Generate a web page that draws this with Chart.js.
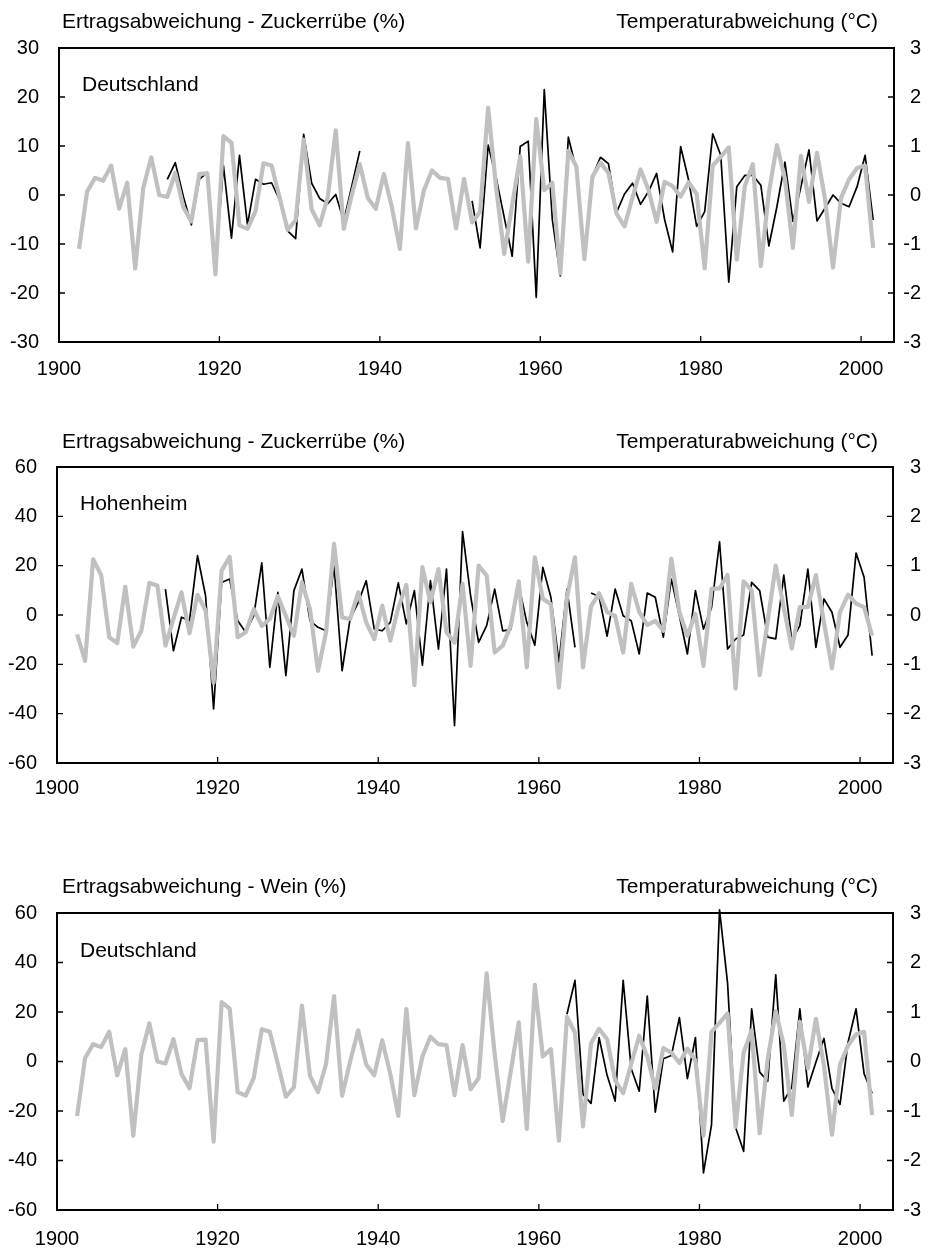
<!DOCTYPE html>
<html>
<head>
<meta charset="utf-8">
<script src="https://cdn.jsdelivr.net/npm/chart.js@4.4.1/dist/chart.umd.min.js"></script>
<style>
    body { margin: 0; background: #fff; width: 930px; height: 1252px; position: relative; overflow: hidden; font-family: "Liberation Sans", Arial, sans-serif; }
    .panneau { position: absolute; left: 0; width: 930px; }
    .texte { position: absolute; font-size: 21px; line-height: 21px; color: #000; white-space: nowrap; }
</style>
</head>
<body>
<div class="panneau" style="top:0;height:400px"><canvas id="canvas_zucker_de"></canvas></div>
<div class="panneau" style="top:400px;height:420px"><canvas id="canvas_zucker_hoh"></canvas></div>
<div class="panneau" style="top:820px;height:432px"><canvas id="canvas_wein_de"></canvas></div>

<div class="texte" style="left:62px;top:10px">Ertragsabweichung - Zuckerrübe (%)</div>
<div class="texte" style="right:52px;top:10px">Temperaturabweichung (°C)</div>
<div class="texte" style="left:82px;top:73px">Deutschland</div>

<div class="texte" style="left:62px;top:430px">Ertragsabweichung - Zuckerrübe (%)</div>
<div class="texte" style="right:52px;top:430px">Temperaturabweichung (°C)</div>
<div class="texte" style="left:80px;top:492px">Hohenheim</div>

<div class="texte" style="left:62px;top:875px">Ertragsabweichung - Wein (%)</div>
<div class="texte" style="right:52px;top:875px">Temperaturabweichung (°C)</div>
<div class="texte" style="left:80px;top:939px">Deutschland</div>

<script>
const premiere_annee = 1902,
    derniere_annee = 2001;
const etiquettes_annees = [1900, 1920, 1940, 1960, 1980, 2000];

// Temperaturabweichung (°C), 1902-2001
const temp_deutschland = [
    -1.10, 0.07, 0.35, 0.29, 0.60, -0.28, 0.25, -1.50, 0.14, 0.77,
    0.00, -0.04, 0.45, -0.25, -0.54, 0.43, 0.44, -1.62, 1.20, 1.07,
    -0.62, -0.69, -0.33, 0.65, 0.60, -0.05, -0.71, -0.52, 1.13, -0.29,
    -0.62, -0.05, 1.32, -0.69, 0.00, 0.63, -0.06, -0.28, 0.43, -0.25,
    -1.10, 1.06, -0.68, 0.10, 0.50, 0.35, 0.33, -0.68, 0.33, -0.56,
    -0.34, 1.78, 0.15, -1.20, -0.20, 0.79, -1.36, 1.55, 0.10, 0.25,
    -1.60, 0.90, 0.58, -1.31, 0.37, 0.66, 0.45, -0.38, -0.64, -0.05,
    0.52, 0.10, -0.55, 0.27, 0.18, -0.03, 0.26, 0.02, -1.50, 0.60,
    0.78, 0.97, -1.32, 0.18, 0.63, -1.45, 0.05, 1.02, 0.33, -1.08,
    0.80, -0.14, 0.86, -0.08, -1.48, -0.06, 0.32, 0.55, 0.60, -1.08
];
const temp_hohenheim = [
    -0.39, -0.93, 1.13, 0.81, -0.45, -0.57, 0.57, -0.64, -0.32, 0.65,
    0.60, -0.62, -0.08, 0.46, -0.37, 0.41, 0.09, -1.37, 0.90, 1.18,
    -0.45, -0.35, 0.12, -0.22, -0.08, 0.38, -0.02, -0.42, 0.66, 0.12,
    -1.13, -0.35, 1.44, -0.05, -0.08, 0.46, -0.15, -0.49, 0.19, -0.52,
    0.15, 0.61, -1.42, 0.97, 0.26, 0.93, -0.35, -0.56, 0.63, -1.03,
    1.00, 0.80, -0.76, -0.62, -0.22, 0.68, -1.06, 1.17, 0.33, 0.22,
    -1.47, 0.35, 1.17, -1.06, 0.18, 0.44, 0.06, -0.02, -0.76, 0.63,
    0.06, -0.20, -0.12, -0.32, 1.14, 0.06, -0.42, 0.02, -1.03, 0.53,
    0.54, 0.81, -1.49, 0.68, 0.50, -1.22, -0.12, 1.00, 0.15, -0.68,
    0.16, 0.16, 0.81, -0.15, -1.08, 0.06, 0.41, 0.23, 0.16, -0.42
];

// Ertragsabweichung (%), 1902-2001, null = keine Daten
const ertrag_zucker_deutschland = [
    null, null, null, null, null, null, null, null, null, null,
    null, 3.2, 6.6, -0.3, -6.1, 3.2, 4.6, -15.0, 6.0, -8.8,
    8.1, -6.1, 3.2, 2.2, 2.5, -1.0, -7.3, -8.9, 12.4, 2.4,
    -0.7, -1.8, 0.1, -5.3, 1.8, 9.0, null, null, null, null,
    null, null, null, null, null, null, null, null, null, -1.2,
    -10.8, 10.2, 3.5, -4.5, -12.5, 9.9, 11.0, -20.9, 21.5, -5.0,
    -16.5, 11.8, 5.2, -12.0, 3.8, 7.7, 6.4, -3.6, 0.2, 2.4,
    -1.9, 0.7, 4.4, -5.0, -11.6, 9.9, 3.0, -6.4, -3.4, 12.5,
    8.1, -17.8, 1.7, 4.0, 4.0, 2.0, -10.4, -2.4, 6.7, -5.4,
    1.7, 9.2, -5.3, -2.7, 0.0, -1.7, -2.4, 1.7, 8.1, -5.1
];
const ertrag_zucker_hohenheim = [
    null, null, null, null, null, null, null, null, null, null,
    null, 10.5, -14.5, -0.9, -2.3, 24.1, 7.8, -38.1, 13.2, 14.6,
    -2.3, -7.0, -0.3, 21.1, -21.2, 9.2, -24.6, 9.9, 18.6, -2.3,
    -5.0, -6.4, 20.0, -22.6, -1.6, 5.0, 13.9, -5.7, -6.4, -3.0,
    13.0, -3.6, 9.9, -20.3, 13.9, -13.8, 18.6, -44.9, 33.8, 7.8,
    -11.1, -4.3, 10.5, -6.4, -5.9, 12.0, -3.0, -12.2, 19.3, 7.2,
    -19.2, 10.5, -13.1, null, 8.9, 7.5, -8.6, 10.5, -0.3, -2.3,
    -15.8, 8.9, 7.2, -9.0, 14.6, -0.3, -15.8, 9.9, -5.7, 3.0,
    29.7, -13.8, -9.7, -8.1, 13.2, 9.9, -9.0, -9.7, 16.2, -10.4,
    -4.3, 18.6, -13.1, 6.5, 1.1, -13.1, -8.1, 25.1, 15.3, -16.5
];
const ertrag_wein_deutschland = [
    null, null, null, null, null, null, null, null, null, null,
    null, null, null, null, null, null, null, null, null, null,
    null, null, null, null, null, null, null, null, null, null,
    null, null, null, null, null, null, null, null, null, null,
    null, null, null, null, null, null, null, null, null, null,
    null, null, null, null, null, null, null, null, null, null,
    null, 19.1, 32.8, -13.3, -16.9, 9.7, -5.6, -16.0, 32.8, -2.9,
    -12.0, 26.4, -20.5, 1.1, 2.4, 17.7, -6.9, 9.7, -45.0, -25.6,
    61.3, 31.7, -26.7, -36.3, 21.3, -4.3, -8.0, 35.0, -16.0, -10.3,
    21.3, -10.3, -0.3, 9.3, -10.9, -17.3, 7.7, 21.3, -4.9, -12.9
];

let annees = [];
for (let a = premiere_annee; a <= derniere_annee; a++) {
    annees.push(a);
}

Chart.defaults.font.family = '"Liberation Sans", Arial, sans-serif';
Chart.defaults.font.size = 20;
Chart.defaults.color = '#000';

// cadre + graduations vers l'intérieur
const cadre = {
    id: 'cadre',
    afterDatasetsDraw(chart) {
        const ctx = chart.ctx,
            a = chart.chartArea,
            sx = chart.scales.x,
            se = chart.scales.yE,
            st = chart.scales.yT;
        ctx.save();
        ctx.strokeStyle = '#000';
        ctx.lineWidth = 1.3;
        ctx.beginPath();
        sx.ticks.forEach(t => {
            const px = sx.getPixelForValue(t.value);
            ctx.moveTo(px, a.bottom);
            ctx.lineTo(px, a.bottom - 6);
        });
        se.ticks.forEach(t => {
            const py = se.getPixelForValue(t.value);
            ctx.moveTo(a.left, py);
            ctx.lineTo(a.left + 6, py);
        });
        st.ticks.forEach(t => {
            const py = st.getPixelForValue(t.value);
            ctx.moveTo(a.right, py);
            ctx.lineTo(a.right - 6, py);
        });
        ctx.stroke();
        ctx.lineWidth = 2;
        ctx.strokeRect(a.left, a.top, a.right - a.left, a.bottom - a.top);
        ctx.restore();
    }
};

function dessiner_panneau(id, temperatures, ertrag, max_ertrag, pas_ertrag, p) {
    const points_temp = annees.map((a, i) => ({ x: a, y: temperatures[i] }));
    const points_ertrag = annees.map((a, i) => ({ x: a, y: ertrag[i] }));
    return new Chart(document.getElementById(id), {
        type: 'line',
        data: {
            datasets: [
                {
                    label: 'Temperaturabweichung',
                    data: points_temp,
                    yAxisID: 'yT',
                    borderColor: '#c0c0c0',
                    borderWidth: 4.2,
                    borderJoinStyle: 'round',
                    pointRadius: 0,
                    tension: 0,
                    clip: false,
                    order: 0
                },
                {
                    label: 'Ertragsabweichung',
                    data: points_ertrag,
                    yAxisID: 'yE',
                    borderColor: '#000',
                    borderWidth: 1.7,
                    borderJoinStyle: 'round',
                    pointRadius: 0,
                    tension: 0,
                    spanGaps: false,
                    clip: false,
                    order: 1
                }
            ]
        },
        options: {
            responsive: true,
            maintainAspectRatio: false,
            animation: false,
            layout: {
                autoPadding: false,
                padding: { top: p.haut, left: 0, right: 9, bottom: 0 }
            },
            plugins: {
                legend: { display: false },
                tooltip: { enabled: false }
            },
            scales: {
                x: {
                    type: 'linear',
                    min: 1899.5,
                    max: 2003.6,
                    grid: { display: false },
                    border: { display: false },
                    afterBuildTicks: axis => {
                        axis.ticks = etiquettes_annees.map(v => ({ value: v - 0.5 }));
                    },
                    afterFit: axis => { axis.height = p.bas; },
                    ticks: {
                        autoSkip: false,
                        maxRotation: 0,
                        padding: p.pad_x,
                        callback: v => String(Math.round(v + 0.5))
                    }
                },
                yE: {
                    position: 'left',
                    min: -max_ertrag,
                    max: max_ertrag,
                    grid: { display: false },
                    border: { display: false },
                    afterFit: axis => { axis.width = p.gauche; },
                    ticks: { stepSize: pas_ertrag, padding: 12 }
                },
                yT: {
                    position: 'right',
                    min: -3,
                    max: 3,
                    grid: { display: false },
                    border: { display: false },
                    afterFit: axis => { axis.width = p.droite - 9; },
                    ticks: { stepSize: 1, padding: 12, crossAlign: 'far' }
                }
            }
        },
        plugins: [cadre]
    });
}

dessiner_panneau('canvas_zucker_de', temp_deutschland, ertrag_zucker_deutschland, 30, 10,
    { haut: 48, bas: 58, gauche: 59, droite: 36, pad_x: 7 });
dessiner_panneau('canvas_zucker_hoh', temp_hohenheim, ertrag_zucker_hohenheim, 60, 20,
    { haut: 67, bas: 57, gauche: 57, droite: 37, pad_x: 5 });
dessiner_panneau('canvas_wein_de', temp_deutschland, ertrag_wein_deutschland, 60, 20,
    { haut: 93, bas: 42, gauche: 57, droite: 37, pad_x: 9 });
</script>
</body>
</html>
